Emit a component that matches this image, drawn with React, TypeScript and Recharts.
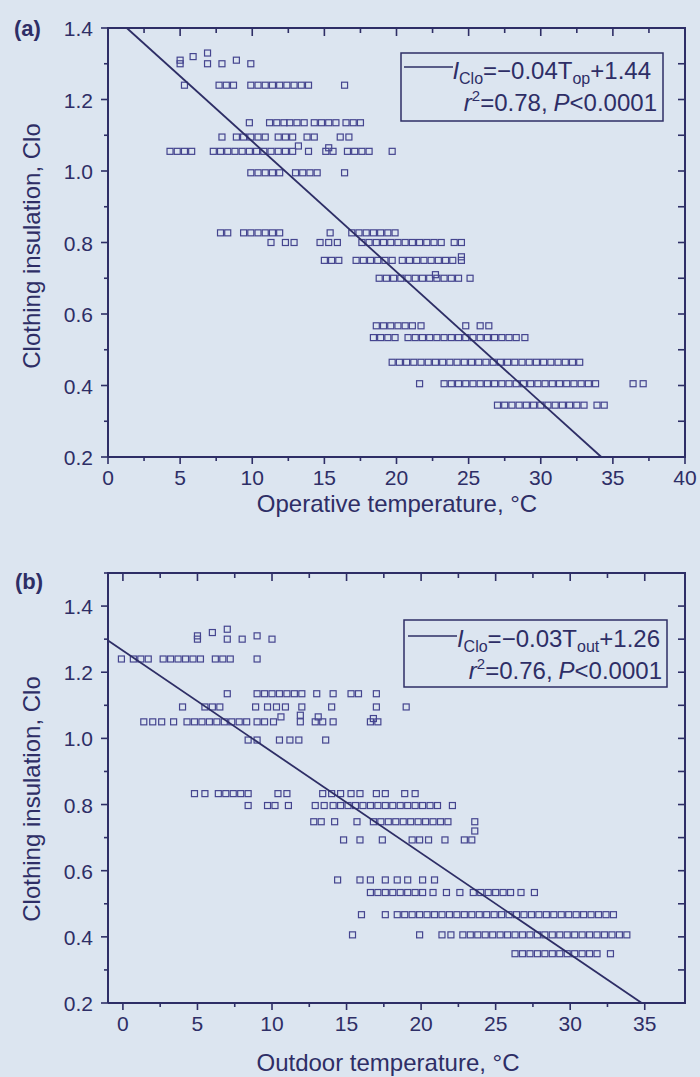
import { ScatterChart, Scatter, XAxis, YAxis } from 'recharts';

const INK = '#2e2e66';
const MARK = '#45458f';
const BG = '#dce5f0';
const FONT = '"Liberation Sans", Arial, Helvetica, sans-serif';

// (a) clothing level of each row, then the operative temperatures (°C) read along it
const opClo = [1.24, 1.135, 1.095, 1.055, 0.995, 0.827, 0.8, 0.75, 0.7, 0.567, 0.534, 0.465, 0.405, 0.345];
const op124 = [5.3, 7.7, 8.2, 8.7, 9.9, 10.4, 10.9, 11.4, 11.9, 12.4, 12.9, 13.4, 13.9, 16.4];
const op113 = [9.8, 11.2, 11.7, 12.2, 12.6, 13.1, 13.6, 14.3, 14.8, 15.3, 15.8, 16.5, 17.0, 17.5];
const op110 = [7.9, 8.9, 9.4, 9.9, 10.4, 10.9, 11.8, 12.3, 12.8, 13.8, 14.3, 16.1, 16.7];
const op105 = [4.3, 4.8, 5.3, 5.8, 7.3, 7.8, 8.3, 8.8, 9.3, 9.8, 10.3, 10.8, 11.3, 11.8, 12.3, 12.8, 13.9, 15.1, 15.6, 16.6, 17.1, 17.6, 18.1, 19.7];
const op100 = [9.9, 10.4, 10.9, 11.4, 11.9, 13.0, 13.5, 14.0, 14.5, 16.4];
const op083 = [7.8, 8.3, 9.4, 9.9, 10.4, 10.9, 11.4, 11.9, 15.4, 16.9, 17.4, 17.9, 18.4, 18.9, 19.4, 19.9];
const op080 = [11.3, 12.3, 12.9, 14.7, 15.3, 15.9, 17.6, 18.1, 18.6, 19.1, 19.6, 20.1, 20.6, 21.1, 21.6, 22.1, 22.6, 23.1, 24.0, 24.5];
const op075 = [15.0, 15.5, 16.0, 17.2, 17.7, 18.2, 18.7, 19.2, 19.7, 20.4, 20.9, 21.4, 21.9, 22.4, 22.9, 23.4, 23.9, 24.5];
const op070 = [18.8, 19.3, 19.8, 20.3, 20.8, 21.3, 21.8, 22.3, 22.8, 23.3, 23.8, 24.3, 25.1];
const op057 = [18.6, 19.1, 19.6, 20.1, 20.6, 21.1, 21.7, 24.8, 25.8, 26.4];
const op053 = [18.4, 18.9, 19.4, 19.9, 20.8, 21.3, 21.8, 22.3, 22.8, 23.3, 23.8, 24.3, 24.8, 25.3, 25.8, 26.3, 26.8, 27.3, 27.8, 28.3, 28.9];
const op047 = [19.7, 20.2, 20.7, 21.2, 21.7, 22.2, 22.7, 23.2, 23.7, 24.2, 24.7, 25.2, 25.7, 26.2, 26.7, 27.2, 27.7, 28.2, 28.7, 29.2, 29.7, 30.2, 30.7, 31.2, 31.7, 32.2, 32.7];
const op040 = [21.6, 23.3, 23.8, 24.3, 24.8, 25.3, 25.8, 26.3, 26.8, 27.3, 27.8, 28.3, 28.8, 29.3, 29.8, 30.3, 30.8, 31.3, 31.8, 32.3, 32.8, 33.3, 33.8, 36.4, 37.1];
const op034 = [27.0, 27.5, 28.0, 28.5, 29.0, 29.5, 30.0, 30.5, 31.0, 31.5, 32.0, 32.5, 33.0, 33.9, 34.4];
const opRows = [op124, op113, op110, op105, op100, op083, op080, op075, op070, op057, op053, op047, op040, op034];
// loose points [T, Clo]
const opOdd = [[5.0, 1.31], [5.0, 1.3], [5.9, 1.32], [6.9, 1.33], [6.9, 1.3], [7.9, 1.3], [8.9, 1.31], [9.9, 1.3], [13.2, 1.07], [15.3, 1.065], [22.7, 0.71], [24.5, 0.76]];
const opFitT = [1.3, 34.2];
const opFitClo = [1.4, 0.2];

// (b) outdoor temperature rows
const outClo = [1.24, 1.135, 1.095, 1.05, 0.995, 0.833, 0.797, 0.748, 0.693, 0.572, 0.534, 0.467, 0.406, 0.349];
const out124 = [-0.1, 0.7, 1.2, 1.7, 2.7, 3.2, 3.7, 4.2, 4.7, 5.2, 6.2, 6.7, 7.2, 9.0];
const out113 = [7.0, 9.0, 9.5, 10.0, 10.5, 11.0, 11.5, 12.0, 13.0, 14.1, 15.3, 15.8, 17.0];
const out110 = [4.0, 5.5, 6.0, 6.5, 8.9, 9.7, 10.3, 10.9, 12.0, 14.0, 17.0, 19.0];
const out105 = [1.4, 2.0, 2.6, 3.4, 4.3, 4.8, 5.3, 5.8, 6.3, 6.8, 7.3, 7.8, 8.3, 9.0, 9.5, 10.1, 11.9, 12.9, 13.4, 14.1, 16.6, 17.1];
const out100 = [8.4, 9.0, 10.5, 11.2, 11.8, 13.6];
const out083 = [4.8, 5.5, 6.4, 6.9, 7.4, 7.9, 8.4, 10.4, 11.0, 13.4, 14.0, 14.6, 15.3, 15.9, 17.0, 17.6, 18.9, 19.6];
const out080 = [8.4, 9.7, 10.2, 11.1, 12.9, 13.5, 14.1, 14.6, 15.1, 15.6, 16.1, 16.6, 17.1, 17.6, 18.1, 18.6, 19.1, 19.6, 20.1, 20.6, 21.1, 22.1];
const out075 = [12.8, 13.3, 14.2, 15.7, 16.8, 17.3, 17.8, 18.3, 18.8, 19.3, 19.8, 20.3, 20.8, 21.3, 21.8, 23.6];
const out070 = [14.8, 15.9, 17.4, 19.4, 19.9, 20.5, 21.6, 22.9, 23.4];
const out057 = [14.4, 15.9, 16.6, 17.6, 18.4, 19.1, 20.1, 20.9];
const out053 = [16.6, 17.1, 17.6, 18.1, 18.6, 19.1, 19.6, 20.1, 20.8, 21.7, 22.6, 23.5, 24.0, 24.5, 25.0, 25.5, 26.0, 26.7, 27.6];
const out047 = [16.0, 17.6, 18.4, 18.9, 19.4, 19.9, 20.4, 20.9, 21.4, 21.9, 22.4, 22.9, 23.4, 23.9, 24.4, 24.9, 25.4, 25.9, 26.4, 26.9, 27.4, 27.9, 28.4, 28.9, 29.4, 29.9, 30.4, 30.9, 31.4, 31.9, 32.4, 32.9];
const out040 = [15.4, 19.9, 21.4, 22.0, 22.8, 23.3, 23.8, 24.3, 24.8, 25.3, 25.8, 26.3, 26.8, 27.3, 27.8, 28.3, 28.8, 29.3, 29.8, 30.3, 30.8, 31.3, 31.8, 32.3, 32.8, 33.3, 33.8];
const out035 = [26.3, 26.8, 27.3, 27.8, 28.3, 28.8, 29.3, 29.8, 30.3, 30.8, 31.3, 31.8, 32.7];
const outRows = [out124, out113, out110, out105, out100, out083, out080, out075, out070, out057, out053, out047, out040, out035];
const outOdd = [[5.0, 1.31], [5.0, 1.3], [6.0, 1.32], [7.0, 1.33], [7.0, 1.3], [8.0, 1.3], [9.0, 1.31], [10.0, 1.3], [10.6, 1.065], [11.9, 1.07], [13.1, 1.065], [16.8, 1.06], [23.6, 0.72]];
const outFitT = [-1, 34.8];
const outFitClo = [1.296, 0.2];

// axes
const opXTicks = [0, 2.5, 5, 7.5, 10, 12.5, 15, 17.5, 20, 22.5, 25, 27.5, 30, 32.5, 35, 37.5, 40];
const opXLabels = [0, 5, 10, 15, 20, 25, 30, 35, 40];
const outXTicks = [0, 2.5, 5, 7.5, 10, 12.5, 15, 17.5, 20, 22.5, 25, 27.5, 30, 32.5, 35];
const outXLabels = [0, 5, 10, 15, 20, 25, 30, 35];
const cloTicksA = [0.2, 0.3, 0.4, 0.5, 0.6, 0.7, 0.8, 0.9, 1.0, 1.1, 1.2, 1.3, 1.4];
const cloTicksB = [0.2, 0.3, 0.4, 0.5, 0.6, 0.7, 0.8, 0.9, 1.0, 1.1, 1.2, 1.3, 1.4, 1.5];
const cloLabels = [0.2, 0.4, 0.6, 0.8, 1.0, 1.2, 1.4];

// plot-area layout shared by both panels
const PLOT_LEFT = 108;
const PLOT_RIGHT = 685;
const PLOT_TOP = 28;

type Pt = { t: number; clo: number };

function buildPoints(levels: number[], rows: number[][], odd: number[][]) {
  const pts: Pt[] = [];
  rows.forEach((row, i) => row.forEach((t) => pts.push({ t, clo: levels[i] })));
  odd.forEach(([t, clo]) => pts.push({ t, clo }));
  return pts;
}

const fitLine = (ts: number[], cs: number[]) => ts.map((t, i) => ({ t, clo: cs[i] }));

const near = (a: number, b: number) => Math.abs(a - b) < 1e-6;
const isMajor = (labels: number[], v: number) => labels.some((l) => near(l, v));

const bottomTick = (labels: number[]) => (p: any) => {
  const v = Number(p.payload.value);
  const major = isMajor(labels, v);
  return (
    <g>
      <line x1={p.x} x2={p.x} y1={p.y} y2={p.y + (major ? 7 : 4)} stroke={INK} strokeWidth={1.6} />
      {major && (
        <text x={p.x} y={p.y + 28} textAnchor="middle" fontSize={21} fontFamily={FONT} fill={INK}>
          {v}
        </text>
      )}
    </g>
  );
};

const leftTick = (labels: number[]) => (p: any) => {
  const v = Number(p.payload.value);
  const major = isMajor(labels, v);
  return (
    <g>
      <line x1={p.x - (major ? 7 : 4)} x2={p.x} y1={p.y} y2={p.y} stroke={INK} strokeWidth={1.6} />
      {major && (
        <text x={p.x - 15} y={p.y + 8} textAnchor="end" fontSize={21} fontFamily={FONT} fill={INK}>
          {v.toFixed(1)}
        </text>
      )}
    </g>
  );
};

const Square = (p: any) => (
  <rect x={p.cx - 3} y={p.cy - 3} width={6} height={6} fill="none" stroke={MARK} strokeWidth={1.2} />
);
const NoMark = () => <g />;

function Panel(props: {
  points: Pt[];
  fit: Pt[];
  xDomain: number[];
  yDomain: number[];
  xTicks: number[];
  xLabels: number[];
  yTicks: number[];
  height: number;
  xAxisHeight: number;
}) {
  const { points, fit, xDomain, yDomain, xTicks, xLabels, yTicks, height, xAxisHeight } = props;
  return (
    <ScatterChart width={700} height={height} margin={{ top: PLOT_TOP, right: 700 - PLOT_RIGHT, bottom: 0, left: 0 }}>
      <XAxis type="number" dataKey="t" domain={xDomain} ticks={xTicks} interval={0}
        height={xAxisHeight} tickSize={0} tickMargin={0} tickLine={false}
        axisLine={{ stroke: INK, strokeWidth: 2 }} tick={bottomTick(xLabels)} />
      <YAxis type="number" dataKey="clo" domain={yDomain} ticks={yTicks} interval={0}
        width={PLOT_LEFT} tickSize={0} tickMargin={0} tickLine={false}
        axisLine={{ stroke: INK, strokeWidth: 2 }} tick={leftTick(cloLabels)} />
      <Scatter data={points} shape={Square} isAnimationActive={false} />
      <Scatter data={fit} shape={NoMark} line={{ stroke: INK, strokeWidth: 1.8 }} isAnimationActive={false} />
    </ScatterChart>
  );
}

// closed frame: top and right edges with inward ticks, placed over a panel's plot area
function Frame(props: { top: number; bottom: number; xDomain: number[]; yDomain: number[]; xTicks: number[]; xLabels: number[]; yTicks: number[] }) {
  const { top, bottom, xDomain, yDomain, xTicks, xLabels, yTicks } = props;
  const px = (v: number) => PLOT_LEFT + ((v - xDomain[0]) / (xDomain[1] - xDomain[0])) * (PLOT_RIGHT - PLOT_LEFT);
  const py = (v: number) => top + ((yDomain[1] - v) / (yDomain[1] - yDomain[0])) * (bottom - top);
  return (
    <g stroke={INK}>
      <path d={`M${PLOT_LEFT - 1},${top} H${PLOT_RIGHT} V${bottom + 1}`} fill="none" strokeWidth={2} />
      {xTicks.map((t) => (
        <line key={`x${t}`} x1={px(t)} x2={px(t)} y1={top} y2={top + (isMajor(xLabels, t) ? 8 : 5)} strokeWidth={1.6} />
      ))}
      {yTicks.map((c) => (
        <line key={`y${c}`} x1={PLOT_RIGHT - 7} x2={PLOT_RIGHT} y1={py(c)} y2={py(c)} strokeWidth={1.6} />
      ))}
    </g>
  );
}

function Sub({ children }: { children: string }) {
  return <tspan fontSize={16} dy={5}>{children}</tspan>;
}

export default function App() {
  const opPoints = buildPoints(opClo, opRows, opOdd);
  const outPoints = buildPoints(outClo, outRows, outOdd);
  const txt = { fontFamily: FONT, fill: INK };
  return (
    <div style={{ position: 'absolute', left: 0, top: 0, width: 700, height: 1077, background: BG, overflow: 'hidden' }}>
      <div style={{ position: 'absolute', left: 0, top: 0 }}>
        <Panel points={opPoints} fit={fitLine(opFitT, opFitClo)} xDomain={[0, 40]} yDomain={[0.2, 1.4]}
          xTicks={opXTicks} xLabels={opXLabels} yTicks={cloTicksA} height={530} xAxisHeight={73} />
      </div>
      <div style={{ position: 'absolute', left: 0, top: 545 }}>
        <Panel points={outPoints} fit={fitLine(outFitT, outFitClo)} xDomain={[-1, 37.7]} yDomain={[0.2, 1.5]}
          xTicks={outXTicks} xLabels={outXLabels} yTicks={cloTicksB} height={532} xAxisHeight={74} />
      </div>
      <svg width={700} height={1077} style={{ position: 'absolute', left: 0, top: 0, pointerEvents: 'none' }}>
        <Frame top={28} bottom={457} xDomain={[0, 40]} yDomain={[0.2, 1.4]} xTicks={opXTicks} xLabels={opXLabels} yTicks={cloTicksA} />
        <Frame top={573} bottom={1003} xDomain={[-1, 37.7]} yDomain={[0.2, 1.5]} xTicks={outXTicks} xLabels={outXLabels} yTicks={cloTicksB} />

        <text x={14} y={36} fontSize={22} fontWeight="bold" {...txt}>(a)</text>
        <text x={15} y={589} fontSize={22} fontWeight="bold" {...txt}>(b)</text>

        <text x={397} y={512} fontSize={24} textAnchor="middle" {...txt}>Operative temperature, °C</text>
        <text x={388} y={1071} fontSize={24} textAnchor="middle" {...txt}>Outdoor temperature, °C</text>
        <text transform="translate(40,246) rotate(-90)" fontSize={24} textAnchor="middle" {...txt}>Clothing insulation, Clo</text>
        <text transform="translate(40,799) rotate(-90)" fontSize={24} textAnchor="middle" {...txt}>Clothing insulation, Clo</text>

        <rect x={401} y={53} width={262} height={68} fill="none" stroke={INK} strokeWidth={1.5} />
        <line x1={404} x2={453} y1={67} y2={67} stroke={INK} strokeWidth={1.5} />
        <text x={651} y={79} fontSize={24} textAnchor="end" {...txt}>
          <tspan fontStyle="italic">I</tspan>
          <Sub>Clo</Sub>
          <tspan dy={-5}>=−0.04T</tspan>
          <Sub>op</Sub>
          <tspan dy={-5}>+1.44</tspan>
        </text>
        <text x={657} y={111} fontSize={24} textAnchor="end" {...txt}>
          <tspan fontStyle="italic">r</tspan>
          <tspan fontSize={15} dy={-10}>2</tspan>
          <tspan dy={10}>=0.78,</tspan>
          <tspan fontStyle="italic" dx={6}>P</tspan>
          <tspan>{'<0.0001'}</tspan>
        </text>

        <rect x={404} y={620} width={263} height={67} fill="none" stroke={INK} strokeWidth={1.5} />
        <line x1={408} x2={457} y1={636} y2={636} stroke={INK} strokeWidth={1.5} />
        <text x={660} y={647} fontSize={24} textAnchor="end" {...txt}>
          <tspan fontStyle="italic">I</tspan>
          <Sub>Clo</Sub>
          <tspan dy={-5}>=−0.03T</tspan>
          <Sub>out</Sub>
          <tspan dy={-5}>+1.26</tspan>
        </text>
        <text x={662} y={679} fontSize={24} textAnchor="end" {...txt}>
          <tspan fontStyle="italic">r</tspan>
          <tspan fontSize={15} dy={-10}>2</tspan>
          <tspan dy={10}>=0.76,</tspan>
          <tspan fontStyle="italic" dx={6}>P</tspan>
          <tspan>{'<0.0001'}</tspan>
        </text>
      </svg>
    </div>
  );
}
